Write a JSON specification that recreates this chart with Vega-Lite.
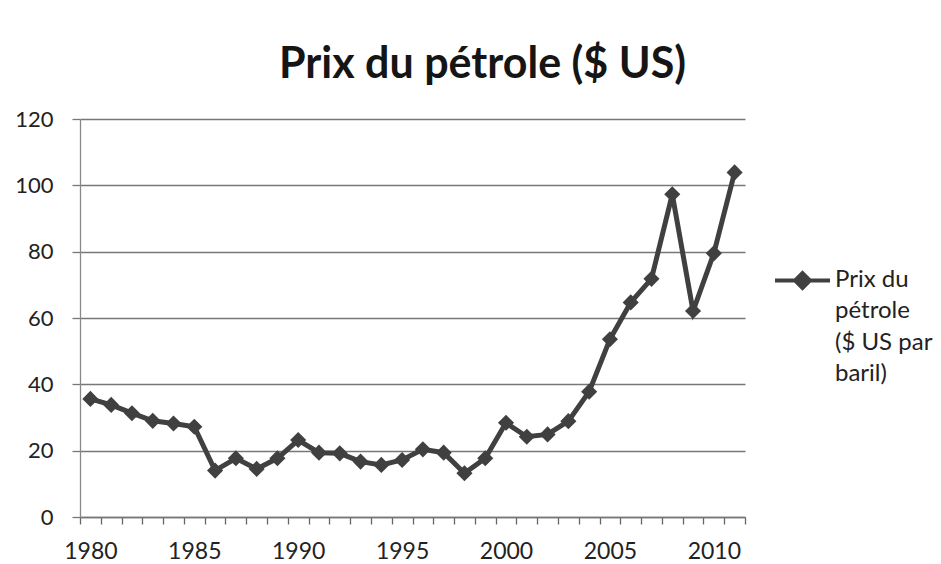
{
  "$schema": "https://vega.github.io/schema/vega-lite/v6.json",
  "width": 665,
  "height": 398,
  "autosize": {"type": "none"},
  "padding": {"left": 80, "top": 119, "right": 196, "bottom": 47},
  "background": "#ffffff",
  "config": {
    "view": {"stroke": null},
    "font": "Lato"
  },
  "title": {
    "text": "Prix du pétrole ($ US)",
    "font": "Lato",
    "fontSize": 43,
    "fontWeight": "bold",
    "color": "#151515",
    "anchor": "middle",
    "dx": 70,
    "baseline": "alphabetic",
    "offset": -13
  },
  "data": {
    "values": [
      {"year": 1980, "price": 35.6},
      {"year": 1981, "price": 33.8},
      {"year": 1982, "price": 31.3},
      {"year": 1983, "price": 29.0},
      {"year": 1984, "price": 28.2},
      {"year": 1985, "price": 27.2},
      {"year": 1986, "price": 14.0},
      {"year": 1987, "price": 17.7},
      {"year": 1988, "price": 14.5},
      {"year": 1989, "price": 17.7},
      {"year": 1990, "price": 23.2},
      {"year": 1991, "price": 19.4},
      {"year": 1992, "price": 19.2},
      {"year": 1993, "price": 16.7},
      {"year": 1994, "price": 15.7},
      {"year": 1995, "price": 17.2},
      {"year": 1996, "price": 20.4},
      {"year": 1997, "price": 19.4},
      {"year": 1998, "price": 13.2},
      {"year": 1999, "price": 17.7},
      {"year": 2000, "price": 28.4},
      {"year": 2001, "price": 24.2},
      {"year": 2002, "price": 24.9},
      {"year": 2003, "price": 28.9},
      {"year": 2004, "price": 37.8},
      {"year": 2005, "price": 53.6},
      {"year": 2006, "price": 64.7},
      {"year": 2007, "price": 71.8},
      {"year": 2008, "price": 97.3},
      {"year": 2009, "price": 62.1},
      {"year": 2010, "price": 79.5},
      {"year": 2011, "price": 103.9}
    ]
  },
  "encoding": {
    "x": {
      "field": "year",
      "type": "ordinal",
      "scale": {"type": "band", "paddingInner": 0, "paddingOuter": 0},
      "axis": {
        "title": null,
        "labelAngle": 0,
        "labelExpr": "datum.value % 5 === 0 ? datum.label : ''",
        "labelFont": "Lato",
        "labelFontSize": 23,
        "labelColor": "#222222",
        "labelPadding": 16,
        "tickBand": "extent",
        "tickSize": 7,
        "tickColor": "#666666",
        "tickWidth": 1.3,
        "domainColor": "#777777",
        "domainWidth": 1.3,
        "grid": false,
        "labelOverlap": false
      }
    },
    "y": {
      "field": "price",
      "type": "quantitative",
      "scale": {"domain": [0, 120], "nice": false},
      "axis": {
        "title": null,
        "values": [0, 20, 40, 60, 80, 100, 120],
        "labelFont": "Lato",
        "labelFontSize": 22,
        "labelColor": "#222222",
        "labelPadding": 19,
        "tickSize": 8,
        "tickColor": "#777777",
        "tickWidth": 1.3,
        "domainColor": "#888888",
        "domainWidth": 1.3,
        "grid": true,
        "gridColor": "#777777",
        "gridWidth": 1.3
      }
    },
    "color": {
      "datum": "Prix du pétrole ($ US par baril)",
      "scale": {"range": ["#404040"]},
      "legend": {
        "title": null,
        "orient": "none",
        "legendX": 693,
        "legendY": 132,
        "padding": 0,
        "symbolType": "M-1,0H1M0,-0.27L0.27,0L0,0.27L-0.27,0Z",
        "symbolSize": 3025,
        "symbolStrokeWidth": 4,
        "symbolFillColor": "#404040",
        "symbolStrokeColor": "#404040",
        "labelFont": "Lato",
        "labelFontSize": 24,
        "labelColor": "#222222",
        "labelLimit": 0,
        "labelOffset": 3,
        "labelBaseline": "top",
        "labelExpr": "['Prix du', 'pétrole', '($ US par', 'baril)']",
        "encode": {
          "labels": {"update": {"lineHeight": {"value": 31.5}, "dy": {"value": -13}}},
          "symbols": {"update": {"fill": {"value": "#404040"}, "stroke": {"value": "#404040"}}}
        }
      }
    }
  },
  "layer": [
    {"mark": {"type": "line", "strokeWidth": 5}},
    {"mark": {"type": "point", "shape": "diamond", "filled": true, "size": 260, "opacity": 1}}
  ]
}
